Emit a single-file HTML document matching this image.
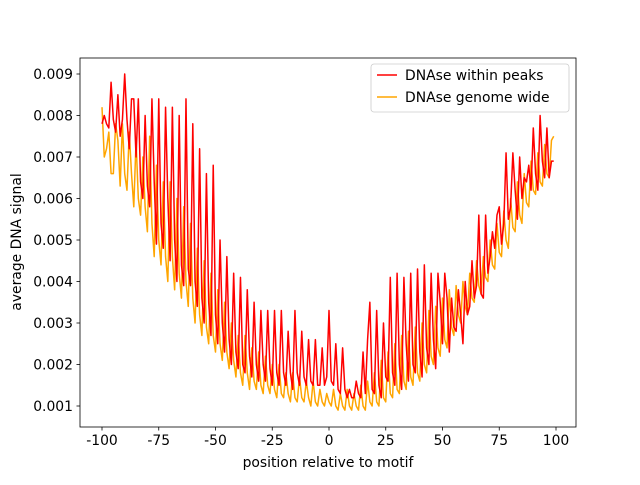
<!DOCTYPE html>
<html><head><meta charset="utf-8"><style>
body{margin:0;background:#fff}
svg text{font-family:"DejaVu Sans","Liberation Sans",sans-serif;font-size:13.9px;fill:#000}
</style></head><body>
<svg id="chart" width="640" height="480" xmlns="http://www.w3.org/2000/svg"></svg>
<script>
const positions = [];
for (let p = -100; p <= 99; p++) positions.push(p);
const withinPeaks = [
7.8,8.0,7.8,7.7,8.8,7.9,7.6,8.5,7.5,7.9,
9.0,7.9,7.2,8.4,8.4,7.0,8.4,6.4,6.0,8.0,
6.3,5.8,8.4,6.4,4.9,8.4,5.4,4.8,8.2,6.0,
4.5,8.2,5.0,4.0,8.0,4.4,3.9,8.4,4.3,3.9,
7.8,4.0,3.4,7.2,3.6,3.0,6.6,3.5,2.7,6.8,
3.2,2.5,5.0,3.0,2.3,4.6,2.6,2.0,4.2,2.3,
1.9,4.1,2.0,1.8,3.8,2.2,1.7,3.5,2.0,1.6,
3.3,2.0,1.6,3.3,1.9,1.5,3.3,1.8,1.5,3.3,
1.8,1.5,2.8,1.8,1.4,3.3,1.8,1.5,2.8,1.7,
1.5,2.6,1.6,1.5,2.6,1.5,1.5,2.4,1.5,1.7,
3.3,1.6,1.5,2.5,1.4,1.3,2.4,1.4,1.2,1.4,
1.2,1.2,1.6,1.3,1.2,2.3,1.3,2.6,3.5,1.4,
1.3,3.3,1.5,1.2,3.0,1.7,1.6,4.1,1.8,1.5,
4.2,2.0,1.4,4.1,2.5,1.6,4.2,2.0,1.8,4.3,
2.3,1.7,4.4,2.4,2.0,4.2,2.6,1.9,4.2,3.5,
2.5,4.2,3.6,2.3,3.6,2.9,2.8,3.8,3.2,2.5,
4.0,3.2,3.4,4.5,3.6,3.9,5.6,3.7,3.6,5.6,
4.2,4.6,5.2,4.8,5.6,5.8,4.9,5.4,7.1,5.5,
5.8,7.1,6.2,5.5,7.0,6.0,6.5,6.4,6.8,6.2,
7.7,6.6,6.2,8.0,6.9,6.5,7.7,6.5,6.9,6.9];
const genomeWide = [
8.2,7.0,7.2,7.6,6.6,6.6,7.8,7.4,6.3,7.8,
6.6,6.2,7.6,6.6,5.8,7.4,6.0,5.6,7.0,5.8,
5.2,7.5,5.4,4.6,6.8,5.0,4.4,6.4,4.6,4.0,
6.4,4.6,3.8,6.0,4.2,3.6,5.8,4.0,3.4,5.4,
3.6,3.0,4.8,3.2,2.7,4.5,2.9,2.5,4.2,2.7,
2.3,3.8,2.5,2.1,3.5,2.3,1.9,3.0,2.1,1.7,
2.7,1.8,1.5,2.7,1.8,1.4,2.4,1.6,1.4,2.3,
1.5,1.3,2.2,1.5,1.3,2.0,1.4,1.2,2.0,1.3,
1.2,1.8,1.3,1.1,1.8,1.2,1.1,1.7,1.2,1.1,
1.6,1.2,1.0,1.6,1.1,1.0,1.4,1.1,1.0,1.3,
1.1,1.0,1.4,1.0,0.9,1.3,1.0,0.9,1.4,1.0,
0.9,1.3,1.0,0.9,1.5,1.0,0.9,1.6,1.1,1.0,
1.8,1.1,1.0,2.1,1.2,1.1,2.3,1.3,1.2,2.5,
1.4,1.3,2.7,1.6,1.4,2.8,1.7,1.5,2.9,1.8,
1.6,3.0,2.0,1.8,3.3,2.2,2.0,3.4,2.4,2.2,
3.6,2.6,2.4,3.8,2.9,2.7,3.9,3.2,3.0,4.0,
3.4,3.2,4.2,3.6,3.5,4.5,3.9,3.7,4.6,4.1,
4.0,5.0,4.4,4.3,5.4,4.7,4.6,5.7,5.0,4.8,
6.0,5.3,5.2,6.4,5.6,5.4,6.6,5.9,5.8,6.9,
6.2,6.1,7.1,6.4,6.3,7.3,6.6,6.5,7.4,7.5];
const xTicks = [-100,-75,-50,-25,0,25,50,75,100];
const yTicks = [1,2,3,4,5,6,7,8,9]; // units of 1e-3
const yTickLabels = ["0.001","0.002","0.003","0.004","0.005","0.006","0.007","0.008","0.009"];

const NS="http://www.w3.org/2000/svg", svg=document.getElementById('chart');
const L=80,R=576,T=58,B=427;
const xs=v=>102+(v+100)*(556-102)/200;
const ys=v=>406-(v-1)*(406-74)/8;
function mk(tag,attrs,parent){const e=document.createElementNS(NS,tag);for(const k in attrs)e.setAttribute(k,attrs[k]);(parent||svg).appendChild(e);return e;}

function series(vals,color,name){
  const d=vals.map((v,i)=>(i?'L':'M')+xs(positions[i]).toFixed(2)+','+ys(v).toFixed(2)).join('');
  const p=mk('path',{d:d,fill:'none',stroke:color,'stroke-width':1.5,'stroke-linejoin':'round'});
  
  
}
series(genomeWide,'#ffa500','series-genome-wide');
series(withinPeaks,'#ff0000','series-within-peaks');

const frame=mk('rect',{x:L,y:T,width:R-L,height:B-T,fill:'none',stroke:'#000','stroke-width':0.8});



xTicks.forEach(t=>{
  const x=xs(t);
  mk('line',{x1:x,x2:x,y1:B,y2:B+3.5,stroke:'#000','stroke-width':0.8});
  const tx=mk('text',{x:x,y:B+18,'text-anchor':'middle'});tx.textContent=t;
  
  
});
yTicks.forEach((t,i)=>{
  const y=ys(t);
  mk('line',{x1:L-3.5,x2:L,y1:y,y2:y,stroke:'#000','stroke-width':0.8});
  const tx=mk('text',{x:L-7,y:y+5,'text-anchor':'end'});tx.textContent=yTickLabels[i];
  
  
});
const xt=mk('text',{x:328,y:467,'text-anchor':'middle'});xt.textContent='position relative to motif';


const yt=mk('text',{x:21,y:242,'text-anchor':'middle',transform:'rotate(-90 21 242)'});yt.textContent='average DNA signal';



const lg=mk('g',{});


mk('rect',{x:371,y:64,width:198,height:48,rx:3,fill:'#fff','fill-opacity':0.8,stroke:'#ccc','stroke-width':0.8},lg);
[['DNAse within peaks','#ff0000',80],['DNAse genome wide','#ffa500',102]].forEach(([n,c,y])=>{
  const e=mk('g',{},lg);
  
  
  mk('line',{x1:377,x2:397,y1:y-5,y2:y-5,stroke:c,'stroke-width':1.5},e);
  const t=mk('text',{x:405,y:y},e);t.textContent=n;
});
</script>
</body></html>
